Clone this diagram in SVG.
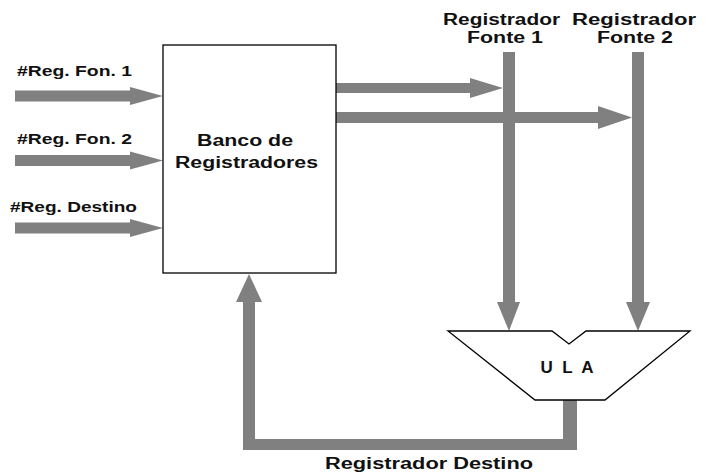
<svg xmlns="http://www.w3.org/2000/svg" width="706" height="476" viewBox="0 0 706 476">
<style>
text{font-family:"Liberation Sans",Arial,sans-serif;font-weight:bold;fill:#111}
.lbl{font-size:15px}
.big{font-size:16px}
.bus{fill:#808080;stroke:none}
.shape{fill:#fff;stroke:#000;stroke-width:1.3}
</style>
<rect width="706" height="476" fill="#fff"/>
<g id="connectors">
<polygon class="bus" points="15,90.5 130,90.5 130,87 163,96 130,105 130,101.5 15,101.5"/>
<polygon class="bus" points="15,155 130,155 130,151.5 163,160.5 130,169.5 130,166 15,166"/>
<polygon class="bus" points="15,222.5 130,222.5 130,219 163,228 130,237 130,233.5 15,233.5"/>
<polygon class="bus" points="336,83 470,83 470,78 503,88 470,98 470,93 336,93"/>
<polygon class="bus" points="336,112 598,112 598,106 632,117.5 598,129 598,123 336,123"/>
<polygon class="bus" points="503,52 515,52 515,302 520,302 509,331 497,302 503,302"/>
<polygon class="bus" points="632,52 644,52 644,302 650,302 638,331 626,302 632,302"/>
<polygon class="bus" points="563,400 577,400 577,450 243,450 243,302 236,302 249,274 262,302 255,302 255,439 563,439"/>
</g>
<g id="banco">
<rect class="shape" x="163" y="45" width="173" height="228" stroke-width="1"/>
<text class="big" x="245" y="146" text-anchor="middle" textLength="96" lengthAdjust="spacingAndGlyphs">Banco de</text>
<text class="big" x="246.5" y="168" text-anchor="middle" textLength="143" lengthAdjust="spacingAndGlyphs">Registradores</text>
</g>
<g id="ula">
<polygon class="shape" points="448,331 552,331 569,344 586,331 690,331 605,400 535,400"/>
<text x="567" y="373" text-anchor="middle" font-size="17" textLength="53" lengthAdjust="spacing">U L A</text>
</g>
<g id="labels">
<text class="lbl" x="17" y="76" textLength="115" lengthAdjust="spacingAndGlyphs">#Reg. Fon. 1</text>
<text class="lbl" x="17" y="144" textLength="115" lengthAdjust="spacingAndGlyphs">#Reg. Fon. 2</text>
<text class="lbl" x="10" y="212" textLength="127" lengthAdjust="spacingAndGlyphs">#Reg. Destino</text>
<text class="big" x="443" y="25" textLength="117" lengthAdjust="spacingAndGlyphs">Registrador</text>
<text class="big" x="467" y="43" textLength="76" lengthAdjust="spacingAndGlyphs">Fonte 1</text>
<text class="big" x="572" y="25" textLength="124" lengthAdjust="spacingAndGlyphs">Registrador</text>
<text class="big" x="597" y="43" textLength="76" lengthAdjust="spacingAndGlyphs">Fonte 2</text>
<text class="big" x="325" y="469" textLength="208" lengthAdjust="spacingAndGlyphs">Registrador Destino</text>
</g>
</svg>
